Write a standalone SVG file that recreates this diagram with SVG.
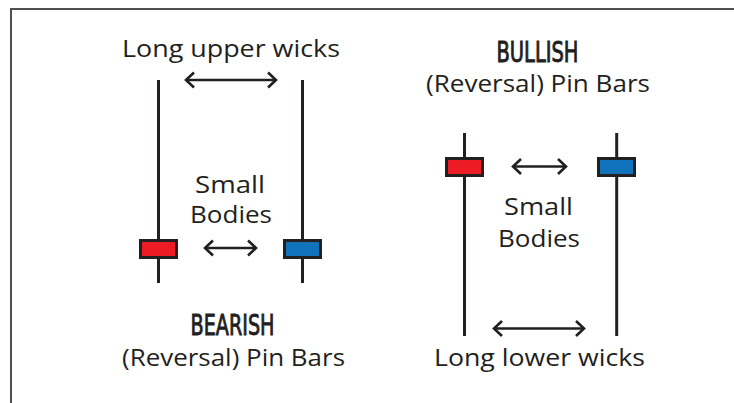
<svg xmlns="http://www.w3.org/2000/svg" width="734" height="403" viewBox="0 0 734 403">
<style>
.lbl{font-family:"Open Sans","Noto Sans","DejaVu Sans",sans-serif;font-size:23px;fill:#231f20;text-anchor:middle}
.hd{font-family:"Liberation Sans Narrow","DejaVu Sans Condensed","Liberation Sans",sans-serif;font-weight:400;font-size:29px;fill:#231f20;stroke:#231f20;stroke-width:0.9;text-anchor:middle}
.wick{stroke:#231f20;stroke-width:3;fill:none}
.red{fill:#ed1c24;stroke:#231f20;stroke-width:3}
.blue{fill:#0f72ba;stroke:#231f20;stroke-width:3}
.arr{stroke:#231f20;stroke-width:2.6;fill:none;marker-start:url(#ah);marker-end:url(#ah)}
.frame{stroke:#505050;stroke-width:2;fill:none}
</style>
<defs>
<marker id="ah" viewBox="-12 -10 14 20" refX="0" refY="0" markerWidth="14" markerHeight="20" markerUnits="userSpaceOnUse" orient="auto-start-reverse">
<path d="M-8,-7.5 L0,0 L-8,7.5" stroke="#231f20" stroke-width="2.6" fill="none"/>
</marker>
</defs>
<rect width="734" height="403" fill="#ffffff"/>
<path class="frame" d="M11,403 V9 H734"/>

<g id="bearish-red-candle">
<line class="wick" x1="158.5" y1="80" x2="158.5" y2="283"/>
<rect class="red" x="140.5" y="240.5" width="36" height="17"/>
</g>
<g id="bearish-blue-candle">
<line class="wick" x1="302.5" y1="80" x2="302.5" y2="283"/>
<rect class="blue" x="284.5" y="240.5" width="36" height="17"/>
</g>
<g id="bullish-red-candle">
<line class="wick" x1="464.5" y1="133" x2="464.5" y2="336"/>
<rect class="red" x="446.5" y="158.5" width="36" height="17"/>
</g>
<g id="bullish-blue-candle">
<line class="wick" x1="616.7" y1="133" x2="616.7" y2="336"/>
<rect class="blue" x="598.5" y="158.5" width="36" height="17"/>
</g>

<g id="connectors">
<line class="arr" x1="186" y1="80" x2="276" y2="80"/>
<line class="arr" x1="205" y1="248" x2="256" y2="248"/>
<line class="arr" x1="513" y1="166.5" x2="566" y2="166.5"/>
<line class="arr" x1="494" y1="328.5" x2="584" y2="328.5"/>
</g>

<g id="label-upper-wicks"><text class="lbl" x="231" y="57" textLength="218" lengthAdjust="spacingAndGlyphs">Long upper wicks</text></g>
<g id="label-small-bodies-left">
<text class="lbl" x="230" y="193" textLength="70" lengthAdjust="spacingAndGlyphs">Small</text>
<text class="lbl" x="231" y="223" textLength="82" lengthAdjust="spacingAndGlyphs">Bodies</text>
</g>
<g id="label-bearish">
<text class="hd" x="232.5" y="335" textLength="84" lengthAdjust="spacingAndGlyphs">BEARISH</text>
<text class="lbl" x="233.5" y="366" textLength="223" lengthAdjust="spacingAndGlyphs">(Reversal) Pin Bars</text>
</g>
<g id="label-bullish">
<text class="hd" x="537.5" y="61.5" textLength="82" lengthAdjust="spacingAndGlyphs">BULLISH</text>
<text class="lbl" x="538" y="91.5" textLength="224" lengthAdjust="spacingAndGlyphs">(Reversal) Pin Bars</text>
</g>
<g id="label-small-bodies-right">
<text class="lbl" x="538.5" y="215" textLength="69" lengthAdjust="spacingAndGlyphs">Small</text>
<text class="lbl" x="539" y="247" textLength="82" lengthAdjust="spacingAndGlyphs">Bodies</text>
</g>
<g id="label-lower-wicks"><text class="lbl" x="539.5" y="365.5" textLength="211" lengthAdjust="spacingAndGlyphs">Long lower wicks</text></g>
</svg>
